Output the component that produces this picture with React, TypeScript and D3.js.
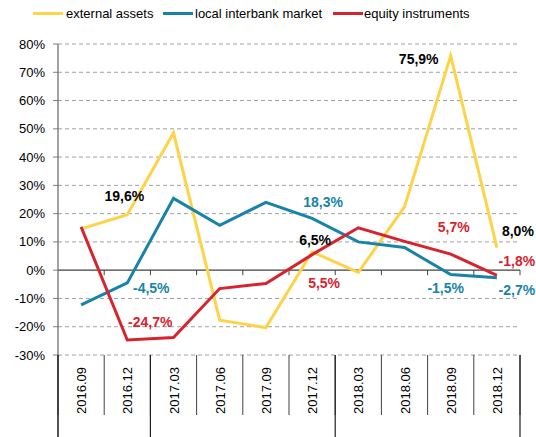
import React from "react";
import * as d3 from "d3";

const categories = ["2016.09","2016.12","2017.03","2017.06","2017.09","2017.12","2018.03","2018.06","2018.09","2018.12"];
const externalAssets = [14.6, 19.6, 48.6, -17.7, -20.3, 6.5, -0.8, 22.4, 75.9, 8.0];
const localInterbank = [-12.3, -4.5, 25.4, 15.9, 24.0, 18.3, 10.0, 8.0, -1.5, -2.7];
const equityInstruments = [15.3, -24.7, -23.8, -6.5, -4.7, 5.5, 15.0, 10.2, 5.7, -1.8];
const yTicks = [80, 70, 60, 50, 40, 30, 20, 10, 0, -10, -20, -30];
const yearGroups = [["2016.09","2016.12"],["2017.03","2017.06","2017.09","2017.12"],["2018.03","2018.06","2018.09","2018.12"]];

const seriesNames = ["external assets", "local interbank market", "equity instruments"];
const colors = ["#FDD348", "#1883A8", "#D7232E"];

// labels: [series index, category index, text]
const labels: [number, number, string][] = [
  [0, 1, "19,6%"],
  [1, 1, "-4,5%"],
  [2, 1, "-24,7%"],
  [0, 8, "75,9%"],
  [1, 5, "18,3%"],
  [0, 5, "6,5%"],
  [2, 5, "5,5%"],
  [2, 8, "5,7%"],
  [0, 9, "8,0%"],
  [2, 9, "-1,8%"],
  [1, 8, "-1,5%"],
  [1, 9, "-2,7%"],
];
const labelOffsets: [number, number][] = [
  [-3, -14],
  [24, 10],
  [23, -13],
  [-32, 8],
  [11, -11],
  [3, -7],
  [12, 33],
  [3, -22],
  [21, -12],
  [20, -9],
  [-5, 19],
  [20, 17],
];
const labelColors = ["#000000", "#1883A8", "#D7232E", "#000000", "#1883A8", "#000000", "#D7232E", "#D7232E", "#000000", "#D7232E", "#1883A8", "#1883A8"];

export default function App() {
  const W = 536, H = 437;
  const x0 = 58, x1 = 520;
  const band = d3.scaleBand<string>().domain(categories).range([x0, x1]).padding(0);
  const y = d3.scaleLinear().domain([-30, 80]).range([355, 44]);
  const cx = (c: string) => (band(c) as number) + band.bandwidth() / 2;
  const allSeries = [externalAssets, localInterbank, equityInstruments];
  const line = d3.line<number>().x((_, i) => cx(categories[i])).y((v) => y(v));
  const font = "Arial, 'Liberation Sans', sans-serif";

  const legendItems = [
    { lx: 33, tx: 66 },
    { lx: 163, tx: 195 },
    { lx: 333, tx: 364 },
  ];

  const boundaries = categories.map((c) => band(c) as number).concat([x1]);
  const yearEdges = yearGroups.map((g) => band(g[0]) as number).concat([x1]);

  return (
    <svg width={W} height={H} style={{ position: "absolute", left: 0, top: 0, background: "#fff" }} fontFamily={font}>
      {/* legend */}
      {seriesNames.map((n, i) => (
        <g key={n}>
          <line x1={legendItems[i].lx} x2={legendItems[i].lx + 30} y1={13.5} y2={13.5} stroke={colors[i]} strokeWidth={3} />
          <text x={legendItems[i].tx} y={18} fontSize={13} fill="#000">{n}</text>
        </g>
      ))}
      {/* gridlines */}
      {yTicks.filter((t) => t !== 0).map((t) => (
        <line key={t} x1={x0} x2={x1} y1={y(t)} y2={y(t)} stroke="#A0A0A0" strokeDasharray="4,3" strokeWidth={1} />
      ))}
      {/* y ticks & labels */}
      {yTicks.map((t) => (
        <g key={"yt" + t}>
          <line x1={x0 - 5} x2={x0} y1={y(t)} y2={y(t)} stroke="#808080" />
          <text x={45} y={y(t) + 4.5} fontSize={13} textAnchor="end" fill="#000">{t}%</text>
        </g>
      ))}
      {/* zero line */}
      <line x1={x0} x2={x1} y1={y(0)} y2={y(0)} stroke="#404040" strokeWidth={1.3} />
      {boundaries.slice(1).map((b, i) => (
        <line key={"zt" + i} x1={b} x2={b} y1={y(0)} y2={y(0) + 5} stroke="#404040" />
      ))}
      {/* y axis */}
      <line x1={x0} x2={x0} y1={y(80)} y2={H} stroke="#707070" strokeWidth={1.3} />
      {/* category separators */}
      {boundaries.map((b, i) => (
        <line key={"cb" + i} x1={b} x2={b} y1={y(-30)} y2={415} stroke="#404040" strokeWidth={1} />
      ))}
      {yearEdges.map((b, i) => (
        <line key={"ye" + i} x1={b} x2={b} y1={y(-30)} y2={H} stroke="#202020" strokeWidth={1.2} />
      ))}
      {/* category labels */}
      {categories.map((c) => (
        <text key={c} transform={`translate(${cx(c) + 5},367) rotate(-90)`} fontSize={13} textAnchor="end" fill="#000">{c}</text>
      ))}
      {/* series */}
      {allSeries.map((s, i) => (
        <path key={i} d={line(s) as string} fill="none" stroke={colors[i]} strokeWidth={3} strokeLinejoin="miter" />
      ))}
      {/* data labels */}
      {labels.map(([si, ci, txt], k) => (
        <text key={k} x={cx(categories[ci]) + labelOffsets[k][0]} y={y(allSeries[si][ci]) + labelOffsets[k][1]} fontSize={14} fontWeight="bold" textAnchor="middle" fill={labelColors[k]}>{txt}</text>
      ))}
    </svg>
  );
}
